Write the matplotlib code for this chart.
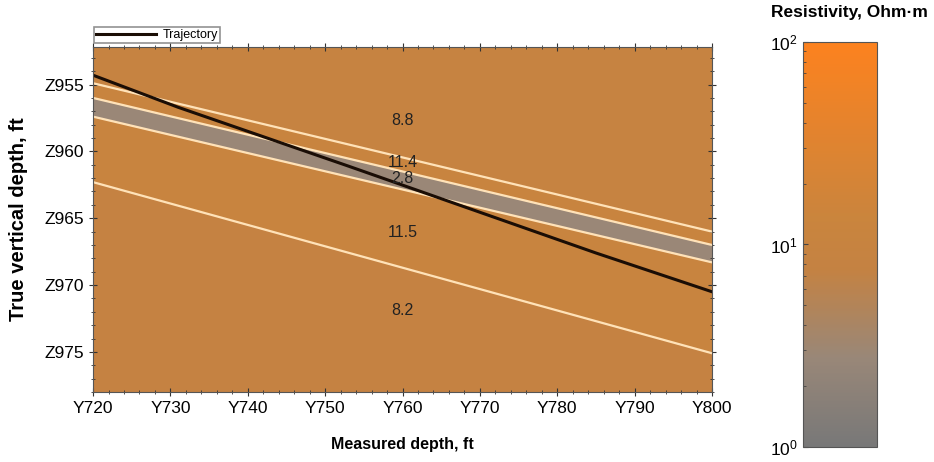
import numpy as np
import matplotlib
matplotlib.use("Agg")
import matplotlib.pyplot as plt
from matplotlib.colors import LinearSegmentedColormap, LogNorm
from matplotlib.ticker import MultipleLocator
import matplotlib.cm as cm

plt.rcParams['font.family'] = ['Liberation Sans', 'DejaVu Sans']

# ---- data ----
md_ends = [720, 800]                          # measured depth at left / right
boundary_top = [954.9, 956.0, 957.4, 962.3]   # boundary TVD at MD 720
boundary_bot = [966.0, 967.0, 968.3, 975.1]   # boundary TVD at MD 800
layer_res = [8.8, 11.4, 2.8, 11.5, 8.2]       # resistivity, Ohm·m (top to bottom)
label_tvd = [957.7, 960.8, 962.0, 966.1, 971.9]
label_md = 760

traj_md = [720, 731, 753, 785, 800]
traj_tvd = [954.3, 956.7, 961.1, 967.6, 970.5]

xticks = [720, 730, 740, 750, 760, 770, 780, 790, 800]
yticks = [955, 960, 965, 970, 975]
ylim = (978.0, 952.2)

# ---- style ----
cmap = LinearSegmentedColormap.from_list(
    "res", [(0.0, (0.47, 0.47, 0.47)), (0.22, (0.60, 0.53, 0.47)),
            (0.44, (0.77, 0.51, 0.26)), (0.56, (0.79, 0.52, 0.24)),
            (1.0, (0.99, 0.51, 0.12))])
norm = LogNorm(vmin=1, vmax=100)

fig = plt.figure(figsize=(9.34, 4.62), dpi=100)
ax = fig.add_axes([0.0996, 0.1515, 0.6627, 0.7465])

md = np.array(md_ends, dtype=float)
bounds = [np.array([ylim[1], ylim[1]])]
for t, b in zip(boundary_top, boundary_bot):
    bounds.append(np.array([t, b]))
bounds.append(np.array([ylim[0], ylim[0]]))

for i, r in enumerate(layer_res):
    ax.fill_between(md, bounds[i], bounds[i + 1], color=cmap(norm(r)), lw=0)
for t, b in zip(boundary_top, boundary_bot):
    ax.plot(md, [t, b], color='#FFE2B8', lw=1.6)

ax.plot(traj_md, traj_tvd, color='#1a0d05', lw=2.2, label='Trajectory')

for r, y in zip(layer_res, label_tvd):
    ax.text(label_md, y, f"{r}", ha='center', va='center', fontsize=11.5, color='#222222')

ax.set_xlim(md_ends)
ax.set_ylim(ylim)
ax.set_xticks(xticks)
ax.set_xticklabels([f"Y{v}" for v in xticks])
ax.set_yticks(yticks)
ax.set_yticklabels([f"Z{v}" for v in yticks])
ax.xaxis.set_minor_locator(MultipleLocator(2))
ax.yaxis.set_minor_locator(MultipleLocator(1))
ax.tick_params(which='both', direction='inout', top=True, right=True, labelsize=12.5, color='#333333')
ax.tick_params(which='major', length=6)
ax.tick_params(which='minor', length=3)
for s in ax.spines.values():
    s.set_color('#555555')
ax.set_xlabel('Measured depth, ft', fontsize=11.5, fontweight='bold', labelpad=15)
ax.set_ylabel('True vertical depth, ft', fontsize=14.5, fontweight='bold', labelpad=12)

leg = ax.legend(loc='lower left', bbox_to_anchor=(-0.002, 1.005), fontsize=9,
                frameon=True, fancybox=False, handlelength=4.8, borderpad=0.15,
                handletextpad=0.5, borderaxespad=0.2)
leg.get_frame().set_edgecolor('#777777')
leg.get_frame().set_linewidth(1.2)

# colorbar
cax = fig.add_axes([0.8597, 0.0325, 0.0792, 0.8766])
sm = cm.ScalarMappable(norm=norm, cmap=cmap)
cb = fig.colorbar(sm, cax=cax)
cb.ax.yaxis.set_ticks_position('left')
cb.ax.yaxis.set_label_position('left')
cb.ax.tick_params(labelsize=12.5, which='both', direction='in', color='#444444')
cb.set_ticks([1, 10, 100])
cb.outline.set_edgecolor('#555555')
fig.text(849 / 934, 1 - 12 / 462, 'Resistivity, Ohm·m', ha='center', va='center',
         fontsize=12.5, fontweight='bold')

fig.savefig('out.png', dpi=100)
